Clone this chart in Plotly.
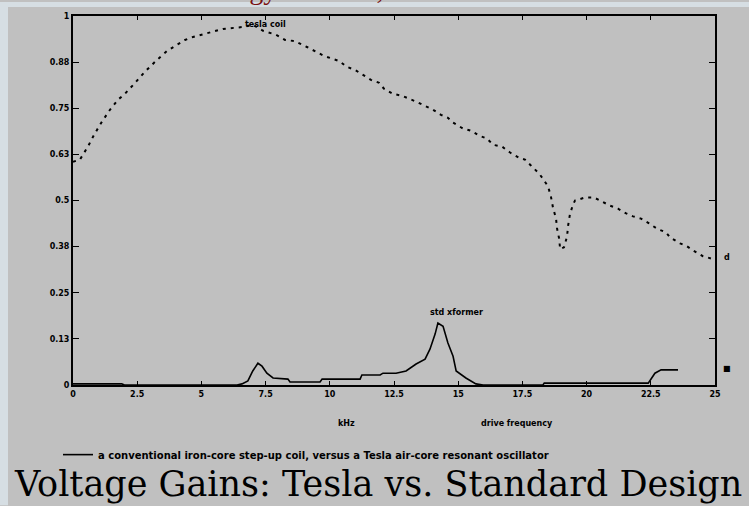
import plotly.graph_objects as go

# Tesla coil gain (dotted curve)
tesla_freq = [0.0, 0.27, 0.58, 0.82, 1.13, 1.44, 1.75, 2.02, 2.38, 2.80, 3.27, 3.66, 4.05, 4.36,
              4.67, 5.26, 5.84, 6.58, 7.01, 7.40, 7.91, 8.26, 8.64, 9.11, 9.42, 9.77, 10.36,
              10.67, 10.98, 11.29, 11.60, 11.92, 12.11, 12.46, 12.81, 13.36, 13.75, 14.02, 14.33,
              14.60, 14.80, 15.19, 15.50, 15.81, 16.12, 16.36, 16.71, 17.02, 17.37, 17.60, 17.83,
              18.15, 18.30, 18.50, 18.61, 18.69, 18.81, 18.85, 18.93, 18.97, 19.12, 19.24, 19.28,
              19.35, 19.47, 19.55, 19.94, 20.29, 20.52, 20.91, 21.22, 21.54, 21.81, 22.12, 22.43,
              22.78, 23.09, 23.25, 23.64, 23.91, 24.14, 24.53, 24.84]
tesla_gain = [0.605, 0.611, 0.646, 0.678, 0.714, 0.746, 0.773, 0.789, 0.816, 0.849, 0.881, 0.905,
              0.922, 0.935, 0.943, 0.954, 0.965, 0.970, 0.976, 0.960, 0.949, 0.935, 0.932, 0.916,
              0.905, 0.892, 0.878, 0.862, 0.854, 0.841, 0.827, 0.819, 0.803, 0.789, 0.784, 0.768,
              0.754, 0.746, 0.732, 0.724, 0.711, 0.695, 0.689, 0.676, 0.668, 0.651, 0.646, 0.630,
              0.616, 0.611, 0.595, 0.573, 0.559, 0.538, 0.511, 0.481, 0.451, 0.424, 0.397, 0.368,
              0.373, 0.403, 0.432, 0.462, 0.489, 0.500, 0.508, 0.508, 0.500, 0.486, 0.478, 0.465,
              0.457, 0.451, 0.438, 0.422, 0.414, 0.400, 0.384, 0.376, 0.365, 0.349, 0.343]

# standard transformer gain (solid curve)
std_freq = [0.0, 1.9, 2.0, 6.39, 6.58, 6.81, 7.0, 7.2, 7.36, 7.55, 7.79, 8.37, 8.45, 9.62, 9.70,
            11.18, 11.25, 11.96, 12.07, 12.58, 12.97, 13.36, 13.71, 13.9, 14.1, 14.21, 14.41,
            14.6, 14.8, 14.92, 15.3, 15.69, 15.97, 18.3, 18.35, 22.4, 22.66, 22.9, 23.56]
std_gain = [0.003, 0.003, 0.0, 0.0, 0.003, 0.011, 0.038, 0.059, 0.051, 0.032, 0.019, 0.016, 0.008,
            0.008, 0.016, 0.016, 0.027, 0.027, 0.032, 0.032, 0.038, 0.057, 0.070, 0.097, 0.138,
            0.168, 0.159, 0.114, 0.078, 0.038, 0.019, 0.003, 0.0, 0.0, 0.005, 0.005, 0.032,
            0.041, 0.041]

x_ticks = [0, 2.5, 5, 7.5, 10, 12.5, 15, 17.5, 20, 22.5, 25]
x_labels = ["0", "2.5", "5", "7.5", "10", "12.5", "15", "17.5", "20", "22.5", "25"]
y_ticks = [0, 0.125, 0.25, 0.375, 0.5, 0.625, 0.75, 0.875, 1]
y_labels = ["0", "0.13", "0.25", "0.38", "0.5", "0.63", "0.75", "0.88", "1"]

W, H = 749, 506
L, R, T, B = 73, 715, 14, 385


def px(x):
    return (x - L) / (R - L)


def py(y):
    return (B - y) / (B - T)


tiny = dict(family="DejaVu Sans", size=8, color="black", weight="bold")

fig = go.Figure()
fig.add_trace(go.Scatter(x=tesla_freq, y=tesla_gain, mode="lines", showlegend=False,
                         line=dict(color="black", width=2, dash="3px,5px")))
fig.add_trace(go.Scatter(x=std_freq, y=std_gain, mode="lines", cliponaxis=False,
                         name="a conventional iron-core step-up coil, versus a Tesla air-core resonant oscillator",
                         line=dict(color="black", width=1.6)))

fig.update_xaxes(range=[0, 25], tickvals=x_ticks, ticktext=x_labels, showgrid=False,
                 zeroline=False, showline=True, linecolor="black", linewidth=2, mirror="ticks",
                 ticks="inside", ticklen=4, tickcolor="black", tickfont=tiny)
fig.update_yaxes(range=[0, 1], tickvals=y_ticks, ticktext=y_labels, showgrid=False,
                 zeroline=False, showline=True, linecolor="black", linewidth=2, mirror="ticks",
                 ticks="inside", ticklen=6, tickcolor="black", tickfont=tiny)

notes = [
    ("tesla coil", 265, 23),
    ("std xformer", 457, 312),
    ("kHz", 346, 424),
    ("drive frequency", 517, 424),
    ("d", 727, 257),
    ("\u25a0", 727, 368),
]
annotations = [dict(text=t, x=px(x), y=py(y), xref="paper", yref="paper", showarrow=False,
                    xanchor="center", yanchor="middle", font=tiny) for t, x, y in notes]
annotations.append(dict(text="Voltage Gains: Tesla vs. Standard Design", x=px(378), y=py(485),
                        xref="paper", yref="paper", showarrow=False, xanchor="center",
                        yanchor="middle",
                        font=dict(family="DejaVu Serif", size=35, color="black")))
# page heading above the chart, only its lowest strokes fall inside the picture
annotations.append(dict(text="Energy Transfer,", x=px(195), y=py(5), xref="paper", yref="paper",
                        showarrow=False, xanchor="left", yanchor="bottom",
                        font=dict(family="Liberation Serif", size=28, color="#7a1010")))

# light marbled page border on the left and top
shapes = [
    dict(type="rect", xref="paper", yref="paper", x0=px(0), x1=px(8), y0=py(H), y1=py(0),
         fillcolor="#d6dee3", line_width=0, layer="below"),
    dict(type="rect", xref="paper", yref="paper", x0=px(0), x1=px(W), y0=py(5), y1=py(0),
         fillcolor="#d6dee3", line_width=0, layer="below"),
]

fig.update_layout(
    width=W, height=H,
    margin=dict(l=L, r=W - R, t=T, b=H - B),
    paper_bgcolor="#c0c0c0", plot_bgcolor="#c0c0c0",
    annotations=annotations, shapes=shapes,
    legend=dict(x=px(58), y=py(455), xanchor="left", yanchor="middle", orientation="h",
                bgcolor="rgba(0,0,0,0)", font=dict(family="DejaVu Sans", size=10, color="black",
                                                   weight="bold")),
)

fig.write_html("out.html", config={"displayModeBar": False},
               post_script="document.body.style.margin='0px';")
